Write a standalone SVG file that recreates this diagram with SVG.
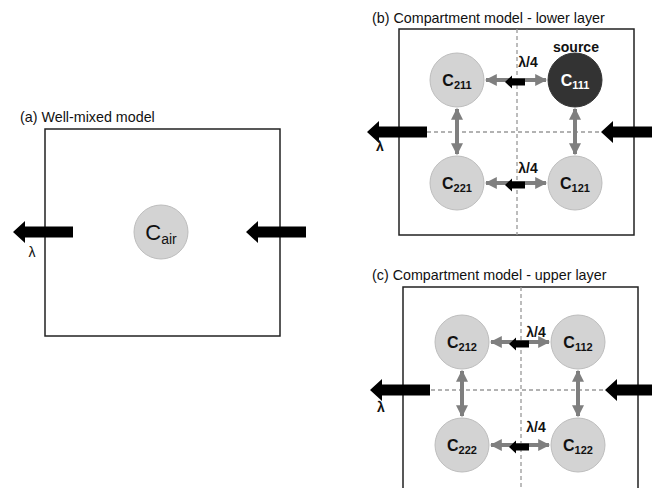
<svg xmlns="http://www.w3.org/2000/svg" width="652" height="488" viewBox="0 0 652 488">
<style>
text{font-family:"Liberation Sans",Arial,sans-serif;fill:#111}
.title{font-size:14.3px}
.box{fill:none;stroke:#222;stroke-width:1.5}
.dash{stroke:#999;stroke-width:1.3;stroke-dasharray:4,3;fill:none}
.cell{fill:#d3d3d3;stroke:#bdbdbd;stroke-width:1}
.src{fill:#333;stroke:#333}
.lbl{font-size:16px;font-weight:bold;text-anchor:middle}
.sub{font-size:11px}
.ga{stroke:#7f7f7f;stroke-width:4;fill:none;marker-start:url(#gh);marker-end:url(#gh)}
.blk{fill:#000}
.bt{font-weight:bold;font-size:14px}
</style>
<defs>
<marker id="gh" viewBox="0 0 10 10" refX="9" refY="5" markerWidth="12" markerHeight="12" markerUnits="userSpaceOnUse" orient="auto-start-reverse">
<path d="M0,0 L10,5 L0,10 Z" fill="#7f7f7f"/>
</marker>
<path id="bigArrow" d="M0,0 L12,-11 L12,-5.5 L60,-5.5 L60,5.5 L12,5.5 L12,11 Z"/>
<path id="smallArrow" d="M0,0 L7,-6.5 L7,-3.5 L20,-3.5 L20,3.5 L7,3.5 L7,6.5 Z"/>
</defs>

<!-- Panel (a) -->
<g id="panel-a">
<text class="title" x="20" y="122">(a) Well-mixed model</text>
<rect class="box" x="45" y="129" width="235" height="207"/>
</g>
<g id="node-cair">
<circle class="cell" cx="161" cy="232" r="27"/>
<text x="161" y="240" style="font-size:22px;text-anchor:middle">C<tspan style="font-size:14px" dy="4">air</tspan></text>
</g>

<!-- Panel (b) -->
<g id="panel-b">
<text class="title" x="372" y="23">(b) Compartment model - lower layer</text>
<rect class="box" x="399" y="29" width="235" height="206"/>
<line class="dash" x1="517" y1="29" x2="517" y2="235"/>
<line class="dash" x1="399" y1="132" x2="634" y2="132"/>
</g>
<g id="node-c211"><circle class="cell" cx="457" cy="80" r="27"/><text class="lbl" x="457" y="86">C<tspan class="sub" dy="3">211</tspan></text></g>
<g id="node-c111"><circle class="cell src" cx="575" cy="80" r="27"/><text class="lbl" x="575" y="86" style="fill:#fff">C<tspan class="sub" dy="3">111</tspan></text><text class="bt" x="576" y="52" text-anchor="middle">source</text></g>
<g id="node-c221"><circle class="cell" cx="457" cy="183" r="27"/><text class="lbl" x="457" y="189">C<tspan class="sub" dy="3">221</tspan></text></g>
<g id="node-c121"><circle class="cell" cx="575" cy="183" r="27"/><text class="lbl" x="575" y="189">C<tspan class="sub" dy="3">121</tspan></text></g>

<!-- Panel (c) -->
<g id="panel-c">
<text class="title" x="372" y="280">(c) Compartment model - upper layer</text>
<path class="box" d="M403,490 L403,287 L638,287 L638,490"/>
<line class="dash" x1="521" y1="287" x2="521" y2="488"/>
<line class="dash" x1="403" y1="390" x2="638" y2="390"/>
</g>
<g id="node-c212"><circle class="cell" cx="462" cy="342" r="27"/><text class="lbl" x="462" y="348">C<tspan class="sub" dy="3">212</tspan></text></g>
<g id="node-c112"><circle class="cell" cx="578" cy="342" r="27"/><text class="lbl" x="578" y="348">C<tspan class="sub" dy="3">112</tspan></text></g>
<g id="node-c222"><circle class="cell" cx="462" cy="445" r="27"/><text class="lbl" x="462" y="451">C<tspan class="sub" dy="3">222</tspan></text></g>
<g id="node-c122"><circle class="cell" cx="578" cy="445" r="27"/><text class="lbl" x="578" y="451">C<tspan class="sub" dy="3">122</tspan></text></g>

<!-- Connectors -->
<g id="connectors">
<!-- (a) -->
<use href="#bigArrow" class="blk" x="13" y="232"/>
<use href="#bigArrow" class="blk" x="246" y="232"/>
<text x="32" y="257" style="font-size:14px;text-anchor:middle">λ</text>
<!-- (b) -->
<line class="ga" x1="486" y1="80" x2="546" y2="80"/>
<line class="ga" x1="486" y1="183" x2="546" y2="183"/>
<line class="ga" x1="457" y1="109" x2="457" y2="154"/>
<line class="ga" x1="575" y1="109" x2="575" y2="154"/>
<use href="#smallArrow" class="blk" x="505" y="82"/>
<use href="#smallArrow" class="blk" x="505" y="185"/>
<text class="bt" x="528" y="67" text-anchor="middle">λ/4</text>
<text class="bt" x="528" y="173" text-anchor="middle">λ/4</text>
<use href="#bigArrow" class="blk" x="367" y="132"/>
<use href="#bigArrow" class="blk" x="601" y="132"/>
<text class="bt" x="380" y="151" text-anchor="middle">λ</text>
<!-- (c) -->
<line class="ga" x1="491" y1="342" x2="549" y2="342"/>
<line class="ga" x1="491" y1="445" x2="549" y2="445"/>
<line class="ga" x1="462" y1="371" x2="462" y2="416"/>
<line class="ga" x1="578" y1="371" x2="578" y2="416"/>
<use href="#smallArrow" class="blk" x="509" y="344"/>
<use href="#smallArrow" class="blk" x="509" y="447"/>
<text class="bt" x="536" y="337" text-anchor="middle">λ/4</text>
<text class="bt" x="536" y="432" text-anchor="middle">λ/4</text>
<use href="#bigArrow" class="blk" x="370" y="390"/>
<use href="#bigArrow" class="blk" x="605" y="390"/>
<text class="bt" x="381" y="412" text-anchor="middle">λ</text>
</g>
</svg>
